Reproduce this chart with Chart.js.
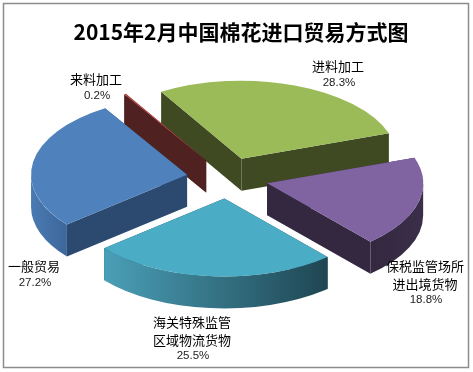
<!DOCTYPE html>
<html lang="zh">
<head>
<meta charset="UTF-8">
<title>2015年2月中国棉花进口贸易方式图</title>
<script src="https://cdn.jsdelivr.net/npm/chart.js"></script>
<style>
    html, body { margin: 0; padding: 0; background: #fff; }
    canvas { display: block; }
</style>
</head>
<body>
<canvas id="pie" width="473" height="372"></canvas>
<script>
// slice order goes clockwise starting from the green one
const categories = ['进料加工', '保税监管场所\n进出境货物', '海关特殊监管\n区域物流货物', '一般贸易', '来料加工'];
const shares = [28.3, 18.8, 25.5, 27.2, 0.2];
const shareLabels = ['28.3%', '18.8%', '25.5%', '27.2%', '0.2%'];
const topColors = ['#9bbb59', '#8064a2', '#4bacc6', '#4f81bd', '#c0504d'];

// fake 3D settings
const pieX = 227.5, pieY = 178;
const tilt = 0.5;
const depth = 32;
const explode = 41;
const fontCjk = '"Noto Sans CJK SC", sans-serif';
const fontNum = '"Liberation Sans", sans-serif';

// radial wall colour, outer wall gradient left -> right
const walls = [
    { edge: '#3f4a23', from: '#3f4a23', to: '#3f4a23' },
    { edge: '#33283f', from: '#33283f', to: '#3b2e4a' },
    { edge: '#1f4754', from: '#4a9fb7', to: '#1f4652' },
    { edge: '#2c4a70', from: '#4a7ab2', to: '#3c679b' },
    { edge: '#4f2120', from: '#4f2120', to: '#4f2120' }
];
// centre of the first text line of each label
const labelAt = [[338, 66], [425, 266], [192, 322], [34, 266], [96, 79]];
// paint back to front
const drawOrder = [0, 4, 3, 1, 2];

function sliceApex(arc) {
    const mid = (arc.startAngle + arc.endAngle) / 2;
    return {
        x: pieX + Math.cos(mid) * explode,
        y: pieY + Math.sin(mid) * explode * tilt
    };
}

function drawWalls(ctx, arc, i) {
    const apex = sliceApex(arc);
    const R = arc.outerRadius, ry = R * tilt;
    const a0 = arc.startAngle, a1 = arc.endAngle;

    ctx.fillStyle = walls[i].edge;
    [a0, a1].forEach(a => {
        const ex = apex.x + Math.cos(a) * R, ey = apex.y + Math.sin(a) * ry;
        ctx.beginPath();
        ctx.moveTo(apex.x, apex.y);
        ctx.lineTo(ex, ey);
        ctx.lineTo(ex, ey + depth);
        ctx.lineTo(apex.x, apex.y + depth);
        ctx.closePath();
        ctx.fill();
    });

    // outer wall, only the front half of the ellipse can be seen
    // angles can run past 2PI so test the shifted range too
    [0, Math.PI * 2, -Math.PI * 2].forEach(shift => {
        const from = Math.max(a0, shift), to = Math.min(a1, shift + Math.PI);
        if (to <= from) return;
        const left = apex.x + Math.min(Math.cos(from), Math.cos(to)) * R;
        const right = apex.x + Math.max(Math.cos(from), Math.cos(to)) * R;
        const grad = ctx.createLinearGradient(left, 0, right, 0);
        grad.addColorStop(0, walls[i].from);
        grad.addColorStop(1, walls[i].to);
        ctx.fillStyle = grad;
        ctx.beginPath();
        ctx.ellipse(apex.x, apex.y, R, ry, 0, from, to);
        ctx.ellipse(apex.x, apex.y + depth, R, ry, 0, to, from, true);
        ctx.closePath();
        ctx.fill();
    });
}

function drawTop(ctx, arc) {
    const apex = sliceApex(arc);
    ctx.save();
    ctx.translate(apex.x, apex.y);
    ctx.scale(1, tilt);
    ctx.translate(-arc.x, -arc.y);
    arc.draw(ctx);
    ctx.restore();
}

const pie3d = {
    id: 'pie3d',
    beforeDraw(chart) {
        const ctx = chart.ctx;
        ctx.save();
        ctx.fillStyle = '#fff';
        ctx.fillRect(0, 0, chart.width, chart.height);
        ctx.strokeStyle = '#8c8c8c';
        ctx.lineWidth = 1.5;
        ctx.strokeRect(3.5, 3.5, 465, 364);
        ctx.restore();
    },
    // arcs get painted here instead of by the default flat pass
    beforeDatasetsDraw(chart) {
        const ctx = chart.ctx;
        const arcs = chart.getDatasetMeta(0).data;
        ctx.save();
        drawOrder.forEach(i => {
            drawWalls(ctx, arcs[i], i);
            drawTop(ctx, arcs[i]);
        });
        ctx.restore();

        ctx.save();
        ctx.fillStyle = '#000';
        ctx.textAlign = 'center';
        ctx.textBaseline = 'middle';
        categories.forEach((name, i) => {
            const [x, y] = labelAt[i];
            const lines = name.split('\n');
            ctx.font = '13px ' + fontCjk;
            lines.forEach((line, n) => ctx.fillText(line, x, y + n * 18));
            ctx.font = '11.5px ' + fontNum;
            ctx.fillStyle = '#222';
            ctx.fillText(shareLabels[i], x + 1, y + lines.length * 17);
            ctx.fillStyle = '#000';
        });
        ctx.restore();
        return false;
    }
};

new Chart(document.getElementById('pie'), {
    type: 'pie',
    data: {
        labels: categories,
        datasets: [{
            data: shares,
            backgroundColor: topColors,
            borderWidth: 0
        }]
    },
    options: {
        responsive: false,
        animation: false,
        radius: 156,
        rotation: -31,
        layout: { padding: { left: 9, top: 11 } },
        plugins: {
            legend: { display: false },
            tooltip: { enabled: false },
            title: {
                display: true,
                text: '2015年2月中国棉花进口贸易方式图',
                color: '#000',
                font: { family: fontCjk, size: 21, weight: 'bold' },
                padding: { top: 8, bottom: 8 }
            }
        }
    },
    plugins: [pie3d]
});
</script>
</body>
</html>
